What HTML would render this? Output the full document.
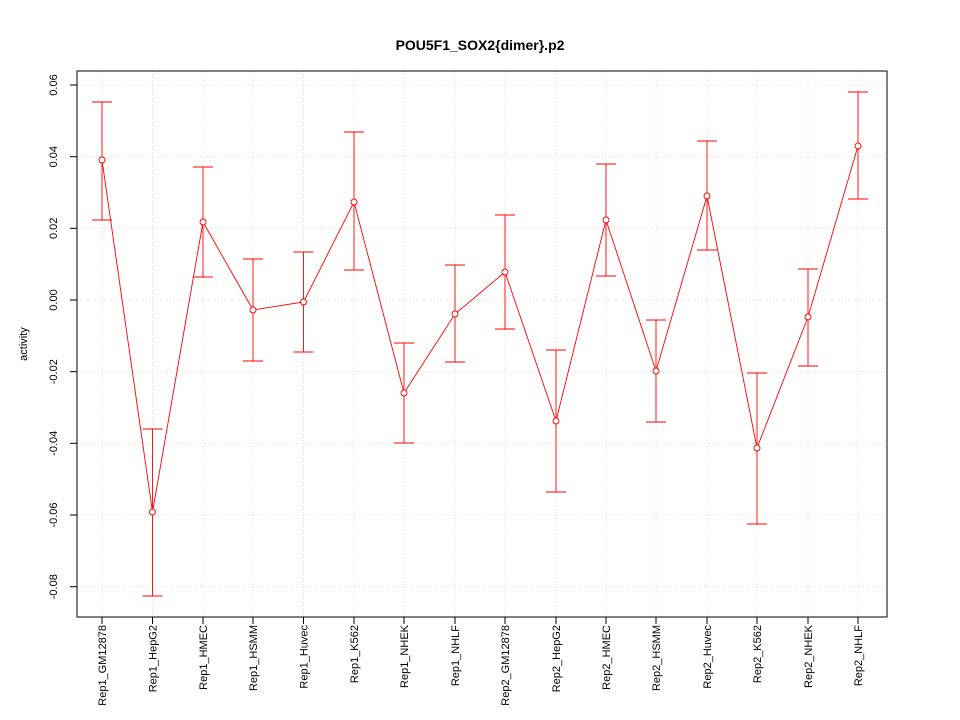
<!DOCTYPE html>
<html><head><meta charset="utf-8"><style>body{margin:0;background:#fff}svg{display:block}</style></head><body>
<svg width="960" height="720" xmlns="http://www.w3.org/2000/svg" font-family="Liberation Sans, sans-serif">
<rect width="960" height="720" fill="#fff"/>
<text x="480" y="50" text-anchor="middle" font-weight="bold" font-size="14">POU5F1_SOX2{dimer}.p2</text>
<g stroke="#dcdcdc" stroke-dasharray="1,2" stroke-width="1">
<line x1="77" x2="887" y1="85" y2="85"/><line x1="77" x2="887" y1="156.7" y2="156.7"/><line x1="77" x2="887" y1="228.3" y2="228.3"/><line x1="77" x2="887" y1="300" y2="300"/><line x1="77" x2="887" y1="371.7" y2="371.7"/><line x1="77" x2="887" y1="443.3" y2="443.3"/><line x1="77" x2="887" y1="515" y2="515"/><line x1="77" x2="887" y1="586.7" y2="586.7"/>
<line y1="71" y2="617" x1="102" x2="102"/><line y1="71" y2="617" x1="152.5" x2="152.5"/><line y1="71" y2="617" x1="203" x2="203"/><line y1="71" y2="617" x1="253" x2="253"/><line y1="71" y2="617" x1="303.5" x2="303.5"/><line y1="71" y2="617" x1="354" x2="354"/><line y1="71" y2="617" x1="404" x2="404"/><line y1="71" y2="617" x1="455" x2="455"/><line y1="71" y2="617" x1="505" x2="505"/><line y1="71" y2="617" x1="556" x2="556"/><line y1="71" y2="617" x1="606" x2="606"/><line y1="71" y2="617" x1="656" x2="656"/><line y1="71" y2="617" x1="707" x2="707"/><line y1="71" y2="617" x1="757" x2="757"/><line y1="71" y2="617" x1="808" x2="808"/><line y1="71" y2="617" x1="858" x2="858"/>
</g>
<rect x="77" y="71" width="810" height="546" fill="none" stroke="#000"/>
<g stroke="#000"><line x1="70" x2="77" y1="85" y2="85"/><line x1="70" x2="77" y1="156.7" y2="156.7"/><line x1="70" x2="77" y1="228.3" y2="228.3"/><line x1="70" x2="77" y1="300" y2="300"/><line x1="70" x2="77" y1="371.7" y2="371.7"/><line x1="70" x2="77" y1="443.3" y2="443.3"/><line x1="70" x2="77" y1="515" y2="515"/><line x1="70" x2="77" y1="586.7" y2="586.7"/></g>
<g font-size="11" text-anchor="middle">
<text transform="translate(57,85) rotate(-90)">0.06</text><text transform="translate(57,156.7) rotate(-90)">0.04</text><text transform="translate(57,228.3) rotate(-90)">0.02</text><text transform="translate(57,300) rotate(-90)">0.00</text><text transform="translate(57,371.7) rotate(-90)">-0.02</text><text transform="translate(57,443.3) rotate(-90)">-0.04</text><text transform="translate(57,515) rotate(-90)">-0.06</text><text transform="translate(57,586.7) rotate(-90)">-0.08</text>
<text transform="translate(27,344) rotate(-90)">activity</text>
</g>
<g font-size="11" text-anchor="end">
<text transform="translate(106,625) rotate(-90)">Rep1_GM12878</text><text transform="translate(156.5,625) rotate(-90)">Rep1_HepG2</text><text transform="translate(207,625) rotate(-90)">Rep1_HMEC</text><text transform="translate(257,625) rotate(-90)">Rep1_HSMM</text><text transform="translate(307.5,625) rotate(-90)">Rep1_Huvec</text><text transform="translate(358,625) rotate(-90)">Rep1_K562</text><text transform="translate(408,625) rotate(-90)">Rep1_NHEK</text><text transform="translate(459,625) rotate(-90)">Rep1_NHLF</text><text transform="translate(509,625) rotate(-90)">Rep2_GM12878</text><text transform="translate(560,625) rotate(-90)">Rep2_HepG2</text><text transform="translate(610,625) rotate(-90)">Rep2_HMEC</text><text transform="translate(660,625) rotate(-90)">Rep2_HSMM</text><text transform="translate(711,625) rotate(-90)">Rep2_Huvec</text><text transform="translate(761,625) rotate(-90)">Rep2_K562</text><text transform="translate(812,625) rotate(-90)">Rep2_NHEK</text><text transform="translate(862,625) rotate(-90)">Rep2_NHLF</text>
</g>
<g stroke="#000"><line y1="617" y2="624" x1="102" x2="102"/><line y1="617" y2="624" x1="152.5" x2="152.5"/><line y1="617" y2="624" x1="203" x2="203"/><line y1="617" y2="624" x1="253" x2="253"/><line y1="617" y2="624" x1="303.5" x2="303.5"/><line y1="617" y2="624" x1="354" x2="354"/><line y1="617" y2="624" x1="404" x2="404"/><line y1="617" y2="624" x1="455" x2="455"/><line y1="617" y2="624" x1="505" x2="505"/><line y1="617" y2="624" x1="556" x2="556"/><line y1="617" y2="624" x1="606" x2="606"/><line y1="617" y2="624" x1="656" x2="656"/><line y1="617" y2="624" x1="707" x2="707"/><line y1="617" y2="624" x1="757" x2="757"/><line y1="617" y2="624" x1="808" x2="808"/><line y1="617" y2="624" x1="858" x2="858"/></g>
<g stroke="#ff0000" fill="none" stroke-width="0.9">
<polyline points="102,160 152.5,512 203,222 253,310 303.5,302 354,202 404,393 455,314 505,272 556,421 606,220 656,371 707,196 757,448 808,317 858,146"/>
<path d="M102,102V220M92,102H112M92,220H112
M152.5,429V596M142.5,429H162.5M142.5,596H162.5
M203,167V277M193,167H213M193,277H213
M253,259V361M243,259H263M243,361H263
M303.5,252V352M293.5,252H313.5M293.5,352H313.5
M354,132V270M344,132H364M344,270H364
M404,343V443M394,343H414M394,443H414
M455,265V362M445,265H465M445,362H465
M505,215V329M495,215H515M495,329H515
M556,350V492M546,350H566M546,492H566
M606,164V276M596,164H616M596,276H616
M656,320V422M646,320H666M646,422H666
M707,141V250M697,141H717M697,250H717
M757,373V524M747,373H767M747,524H767
M808,269V366M798,269H818M798,366H818
M858,92V199M848,92H868M848,199H868"/>
<g fill="#fff">
<circle cx="102" cy="160" r="3"/><circle cx="152.5" cy="512" r="3"/><circle cx="203" cy="222" r="3"/><circle cx="253" cy="310" r="3"/><circle cx="303.5" cy="302" r="3"/><circle cx="354" cy="202" r="3"/><circle cx="404" cy="393" r="3"/><circle cx="455" cy="314" r="3"/><circle cx="505" cy="272" r="3"/><circle cx="556" cy="421" r="3"/><circle cx="606" cy="220" r="3"/><circle cx="656" cy="371" r="3"/><circle cx="707" cy="196" r="3"/><circle cx="757" cy="448" r="3"/><circle cx="808" cy="317" r="3"/><circle cx="858" cy="146" r="3"/>
</g></g>
</svg>
</body></html>
